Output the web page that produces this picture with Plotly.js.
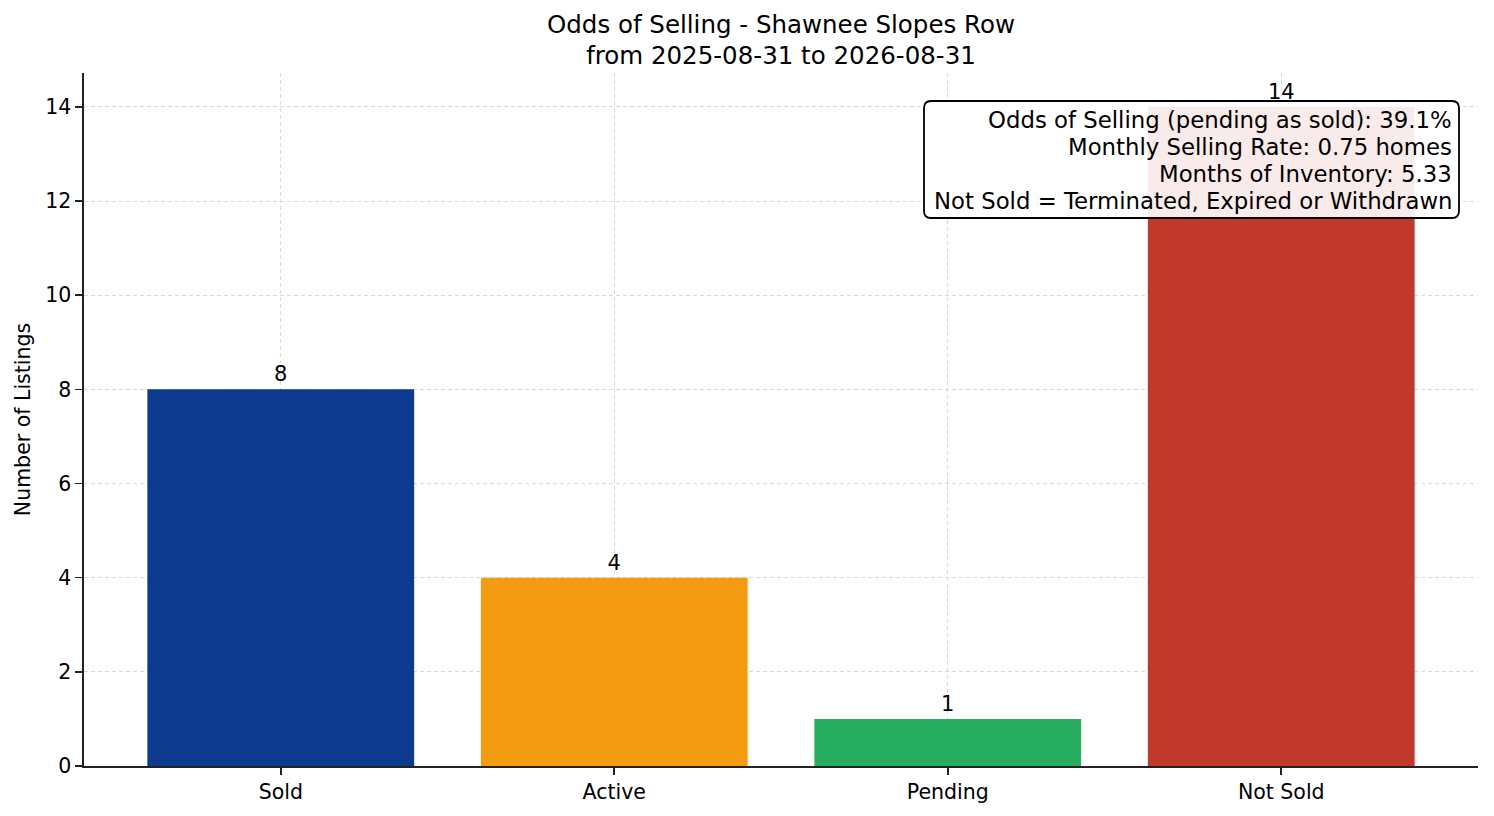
<!DOCTYPE html>
<html>
<head>
<meta charset="utf-8">
<script src="https://cdn.plot.ly/plotly-3.0.1.min.js"></script>
<style>
  html, body { margin: 0; padding: 0; background: #fff; }
  #chart { width: 1494px; height: 816px; }
</style>
</head>
<body>
<div id="chart"></div>
<script>
// Listing outcome counts
const categories = ['Sold', 'Active', 'Pending', 'Not Sold'];
const counts = [8, 4, 1, 14];
const barColors = ['#0b3a8e', '#f39c12', '#27ae60', '#c0392b'];

const titleLines = ['Odds of Selling - Shawnee Slopes Row', 'from 2025-08-31 to 2026-08-31'];
const statsLines = [
    'Odds of Selling (pending as sold): 39.1%',
    'Monthly Selling Rate: 0.75 homes',
    'Months of Inventory: 5.33',
    'Not Sold = Terminated, Expired or Withdrawn',
];
const yTicks = [0, 2, 4, 6, 8, 10, 12, 14];

const FONT = 'DejaVu Sans, sans-serif';

// plot area in pixels (used to place the stats box in paper units)
const PLOT = { l: 84, r: 1478, t: 73, b: 766 };
const px2x = px => (px - PLOT.l) / (PLOT.r - PLOT.l);
const px2y = py => (PLOT.b - py) / (PLOT.b - PLOT.t);

const trace = {
    type: 'bar',
    x: categories,
    y: counts,
    width: 0.8,
    marker: { color: barColors, line: { width: 0 } },
    text: counts.map(String),
    textposition: 'outside',
    textfont: { family: FONT, size: 21, color: '#000' },
    cliponaxis: false,
    hoverinfo: 'skip',
};

const gridStyle = { showgrid: true, gridcolor: '#d9d9d9', gridwidth: 1, griddash: '4px,3px' };

// rounded stats box
function roundedBox(x0p, y0p, x1p, y1p, r) {
    const x0 = px2x(x0p), x1 = px2x(x1p), y0 = px2y(y0p), y1 = px2y(y1p);
    const rx = r / (PLOT.r - PLOT.l), ry = r / (PLOT.b - PLOT.t);
    return `M ${x0 + rx},${y0} L ${x1 - rx},${y0} Q ${x1},${y0} ${x1},${y0 - ry} ` +
        `L ${x1},${y1 + ry} Q ${x1},${y1} ${x1 - rx},${y1} L ${x0 + rx},${y1} ` +
        `Q ${x0},${y1} ${x0},${y1 + ry} L ${x0},${y0 - ry} Q ${x0},${y0} ${x0 + rx},${y0} Z`;
}

const statsAnnotations = statsLines.map((line, i) => ({
    xref: 'paper', yref: 'paper',
    x: px2x(1454), y: px2y(120 + i * 27),
    xanchor: 'right', yanchor: 'middle',
    text: line,
    showarrow: false,
    font: { family: FONT, size: 22.8, color: '#000' },
}));

const layout = {
    width: 1494,
    height: 816,
    margin: { l: 84, r: 16, t: 73, b: 50 },
    paper_bgcolor: '#fff',
    plot_bgcolor: '#fff',
    showlegend: false,
    font: { family: FONT, color: '#000' },
    title: {
        text: titleLines.join('<br>'),
        font: { family: FONT, size: 24.5, color: '#000' },
        x: 0.5, xref: 'paper', xanchor: 'center',
        y: 0.960, yref: 'container', yanchor: 'top',
    },
    xaxis: Object.assign({
        type: 'category',
        range: [-0.59, 3.59],
        showline: true, linecolor: '#222', linewidth: 1.6,
        ticks: 'outside', ticklen: 7, tickwidth: 1.6, tickcolor: '#222',
        tickfont: { family: FONT, size: 20.5, color: '#000' },
        layer: 'above traces',
        zeroline: false,
        fixedrange: true,
    }, gridStyle),
    yaxis: Object.assign({
        range: [0, 14.72],
        tickvals: yTicks,
        showline: true, linecolor: '#222', linewidth: 1.6,
        ticks: 'outside', ticklen: 7, tickwidth: 1.6, tickcolor: '#222',
        tickfont: { family: FONT, size: 20.5, color: '#000' },
        title: { text: 'Number of Listings', font: { family: FONT, size: 20.5, color: '#000' }, standoff: 9 },
        layer: 'above traces',
        zeroline: false,
        fixedrange: true,
    }, gridStyle),
    shapes: [{
        type: 'path',
        xref: 'paper', yref: 'paper',
        path: roundedBox(924, 101, 1459, 218, 7),
        fillcolor: 'rgba(255,255,255,0.9)',
        line: { color: '#000', width: 1.8 },
        layer: 'above',
    }],
    annotations: statsAnnotations,
};

Plotly.newPlot('chart', [trace], layout, { displayModeBar: false, staticPlot: true });
</script>
</body>
</html>
